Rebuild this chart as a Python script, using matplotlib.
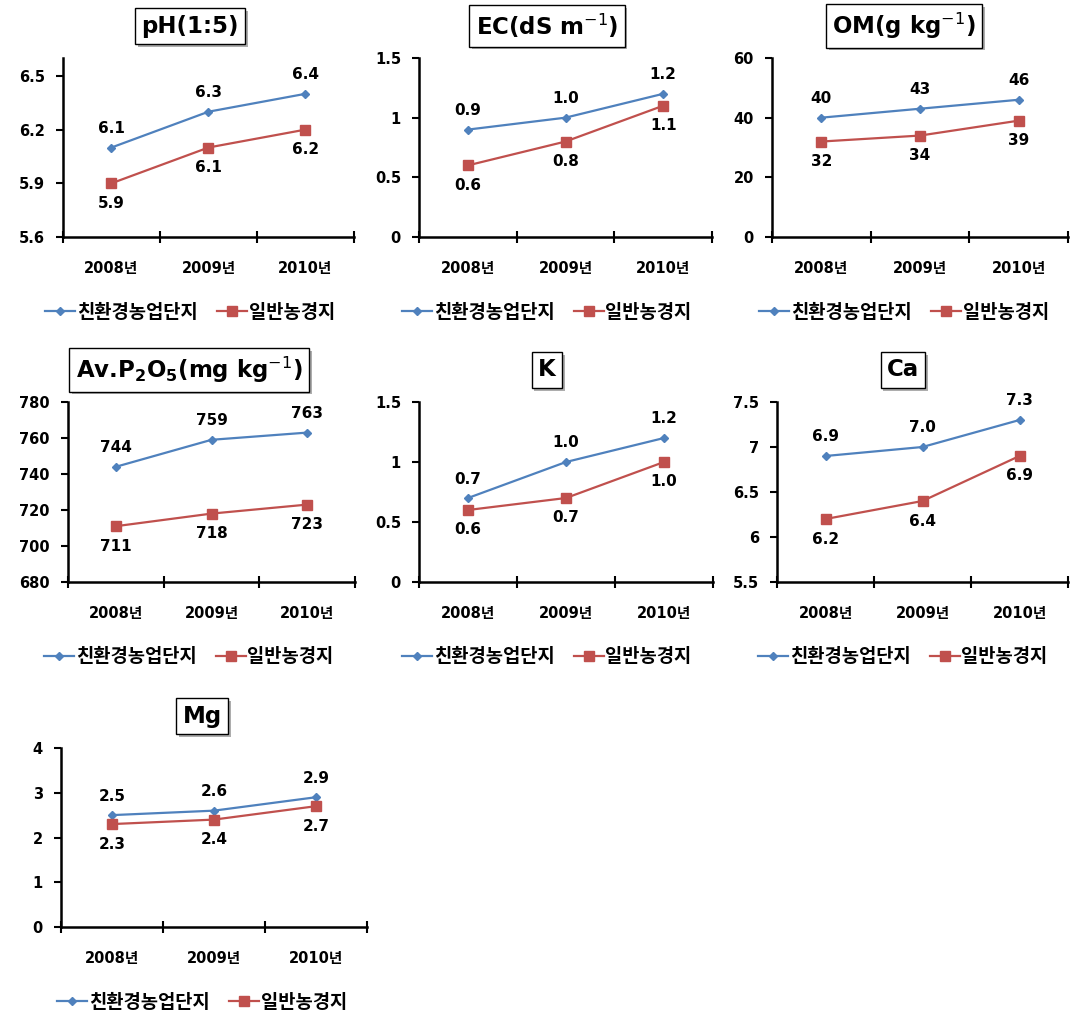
import matplotlib
matplotlib.use("Agg")
import matplotlib.pyplot as plt
import matplotlib.patheffects as pe

plt.rcParams['font.family'] = ['DejaVu Sans', 'Noto Sans CJK KR']
plt.rcParams['mathtext.fontset'] = 'dejavusans'

# 데이터
years = ['2008년', '2009년', '2010년']
series_names = ['친환경농업단지', '일반농경지']

titles = ['pH(1:5)', r'EC(dS m$^{-1}$)', r'OM(g kg$^{-1}$)',
          r'Av.P$_\mathbf{2}$O$_\mathbf{5}$(mg kg$^{-1}$)', 'K', 'Ca', 'Mg']

ph_eco = [6.1, 6.3, 6.4]
ph_gen = [5.9, 6.1, 6.2]
ec_eco = [0.9, 1.0, 1.2]
ec_gen = [0.6, 0.8, 1.1]
om_eco = [40, 43, 46]
om_gen = [32, 34, 39]
p_eco = [744, 759, 763]
p_gen = [711, 718, 723]
k_eco = [0.7, 1.0, 1.2]
k_gen = [0.6, 0.7, 1.0]
ca_eco = [6.9, 7.0, 7.3]
ca_gen = [6.2, 6.4, 6.9]
mg_eco = [2.5, 2.6, 2.9]
mg_gen = [2.3, 2.4, 2.7]

eco_all = [ph_eco, ec_eco, om_eco, p_eco, k_eco, ca_eco, mg_eco]
gen_all = [ph_gen, ec_gen, om_gen, p_gen, k_gen, ca_gen, mg_gen]
label_fmt = ['{:.1f}', '{:.1f}', '{:.0f}', '{:.0f}', '{:.1f}', '{:.1f}', '{:.1f}']

y_ticks = [[5.6, 5.9, 6.2, 6.5], [0, 0.5, 1, 1.5], [0, 20, 40, 60],
           [680, 700, 720, 740, 760, 780], [0, 0.5, 1, 1.5],
           [5.5, 6, 6.5, 7, 7.5], [0, 1, 2, 3, 4]]
y_ticklabels = [['5.6', '5.9', '6.2', '6.5'], ['0', '0.5', '1', '1.5'],
                ['0', '20', '40', '60'], ['680', '700', '720', '740', '760', '780'],
                ['0', '0.5', '1', '1.5'], ['5.5', '6', '6.5', '7', '7.5'],
                ['0', '1', '2', '3', '4']]
y_lims = [(5.6, 6.6), (0, 1.5), (0, 60), (680, 780), (0, 1.5), (5.5, 7.5), (0, 4)]

# 패널 위치 (픽셀): left, right, top, bottom, 제목/범례 중심 x, 제목 y
W, H = 1089, 1028
panels = [
    (63, 354, 58, 237, 190, 26),
    (419, 712, 58, 237, 547, 26),
    (772, 1068, 58, 237, 904, 26),
    (68, 355, 402, 582, 189, 370),
    (419, 713, 402, 582, 547, 370),
    (777, 1068, 402, 582, 903, 370),
    (61, 367, 748, 927, 202, 716),
]

BLUE = '#4F81BD'
RED = '#C0504D'

fig = plt.figure(figsize=(W / 100, H / 100), dpi=100)

for i, (l, r, t, b, cx, ty) in enumerate(panels):
    ax = fig.add_axes([l / W, 1 - b / H, (r - l) / W, (b - t) / H])
    x = [0.5, 1.5, 2.5]
    eco = eco_all[i]
    gen = gen_all[i]
    h1, = ax.plot(x, eco, color=BLUE, lw=1.6, marker='D', ms=4.5,
                  markeredgecolor=BLUE, label=series_names[0])
    h2, = ax.plot(x, gen, color=RED, lw=1.6, marker='s', ms=6.5,
                  markeredgecolor=RED, label=series_names[1])
    for xi, v in zip(x, eco):
        ax.annotate(label_fmt[i].format(v), (xi, v), xytext=(0, 19),
                    textcoords='offset pixels', ha='center', va='center',
                    fontsize=11, fontweight='bold')
    for xi, v in zip(x, gen):
        ax.annotate(label_fmt[i].format(v), (xi, v), xytext=(0, -20),
                    textcoords='offset pixels', ha='center', va='center',
                    fontsize=11, fontweight='bold')

    ax.set_xlim(0, 3)
    ax.set_ylim(*y_lims[i])
    ax.set_yticks(y_ticks[i])
    ax.set_yticklabels(y_ticklabels[i], fontsize=10.5, fontweight='bold')
    ax.set_xticks([0, 1, 2, 3])
    ax.set_xticklabels([])
    ax.set_xticks(x, minor=True)
    ax.set_xticklabels(years, minor=True, fontsize=10.5, fontweight='bold')
    ax.tick_params(axis='x', which='minor', length=0, pad=17)
    ax.tick_params(axis='x', which='major', direction='inout', length=8, width=1.5)
    ax.tick_params(axis='y', direction='out', length=5, width=1.5, pad=8)
    for s in ['top', 'right']:
        ax.spines[s].set_visible(False)
    for s in ['left', 'bottom']:
        ax.spines[s].set_linewidth(1.8)
    ax.set_facecolor('none')

    txt = fig.text(cx / W, 1 - ty / H, titles[i], ha='center', va='center',
                   fontsize=16.5, fontweight='bold',
                   bbox=dict(boxstyle='square,pad=0.28', fc='white', ec='black', lw=1))
    txt.get_bbox_patch().set_path_effects(
        [pe.SimplePatchShadow(offset=(2, -2), shadow_rgbFace='#999999', alpha=0.8),
         pe.Normal()])

    fig.legend(handles=[h1, h2], loc='center',
               bbox_to_anchor=(cx / W, 1 - (b + 75) / H), ncol=2, frameon=False,
               prop={'family': ['Noto Sans CJK KR'], 'weight': 'bold', 'size': 13.5},
               handlelength=1.6, handletextpad=0.1, columnspacing=1.0)

fig.savefig('out.png', dpi=100, facecolor='white')
